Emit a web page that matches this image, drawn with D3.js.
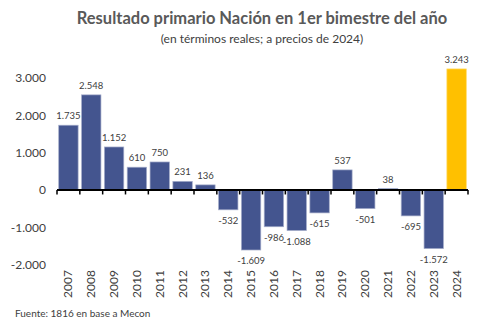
<!DOCTYPE html>
<html>
<head>
<meta charset="utf-8">
<script src="https://cdn.jsdelivr.net/npm/d3@7"></script>
<style>
  body { margin: 0; background: #fff; }
  svg { font-family: Lato, "Open Sans", sans-serif; }
</style>
</head>
<body>
<svg width="477" height="326"></svg>
<script>
// Resultado primario, primer bimestre de cada año (millones, pesos de 2024)
var years = ['2007','2008','2009','2010','2011','2012','2013','2014','2015',
             '2016','2017','2018','2019','2020','2021','2022','2023','2024'];
var values = [1735, 2548, 1152, 610, 750, 231, 136, -532, -1609,
              -986, -1088, -615, 537, -501, 38, -695, -1572, 3243];
var yTicks = [-2000, -1000, 0, 1000, 2000, 3000];

var svg = d3.select('svg');
var locale = d3.formatLocale({ decimal: ',', thousands: '.', grouping: [3], currency: ['$', ''], minus: '-' });
var fmt = locale.format(',d');

var x = d3.scaleBand()
    .domain(years)
    .range([57, 468])
    .paddingInner(0.15)
    .paddingOuter(0.075);

var y = d3.scaleLinear()
    .domain([-2000, 3000])
    .range([264.6, 78]);

// titulos
svg.append('text')
    .attr('x', 262).attr('y', 24)
    .attr('text-anchor', 'middle')
    .attr('font-size', 16.5).attr('font-weight', 'bold')
    .attr('fill', '#595959')
    .text('Resultado primario Nación en 1er bimestre del año');

svg.append('text')
    .attr('x', 262).attr('y', 43)
    .attr('text-anchor', 'middle')
    .attr('font-size', 12)
    .attr('fill', '#404040')
    .text('(en términos reales; a precios de 2024)');

// eje y, solo etiquetas
var yAxis = svg.append('g')
    .attr('transform', 'translate(46,0)')
    .call(d3.axisLeft(y).tickValues(yTicks).tickFormat(fmt).tickSize(0).tickPadding(0));
yAxis.select('.domain').remove();
yAxis.selectAll('text')
    .attr('font-size', 12)
    .attr('font-family', 'Lato, "Open Sans", sans-serif')
    .attr('fill', '#404040');

// barras
svg.selectAll('.bar')
    .data(values)
    .enter()
    .append('rect')
    .attr('class', 'bar')
    .attr('x', function(d, i) { return x(years[i]); })
    .attr('width', x.bandwidth())
    .attr('y', function(d) { return y(Math.max(0, d)); })
    .attr('height', function(d) { return Math.abs(y(d) - y(0)); })
    .attr('fill', function(d, i) { return years[i] === '2024' ? '#FFC000' : '#44558F'; })
    .attr('stroke', function(d, i) { return years[i] === '2024' ? '#FFD966' : '#A6AECB'; })
    .attr('stroke-width', 0.7);

// etiquetas de valor
svg.selectAll('.val')
    .data(values)
    .enter()
    .append('text')
    .attr('class', 'val')
    .attr('x', function(d, i) { return x(years[i]) + x.bandwidth() / 2; })
    .attr('y', function(d) { return d >= 0 ? y(d) - 6 : y(d) + 14; })
    .attr('text-anchor', 'middle')
    .attr('font-size', 9.5)
    .attr('fill', '#404040')
    .text(function(d) { return fmt(d); });

// eje x sobre el cero, con marcas entre categorias
var bounds = d3.range(years.length + 1).map(function(i) { return 57 + i * x.step(); });
svg.append('line')
    .attr('x1', 57).attr('x2', 468)
    .attr('y1', y(0)).attr('y2', y(0))
    .attr('stroke', '#000').attr('stroke-width', 2);
svg.selectAll('.tk')
    .data(bounds)
    .enter()
    .append('line')
    .attr('class', 'tk')
    .attr('x1', function(d) { return d; }).attr('x2', function(d) { return d; })
    .attr('y1', y(0)).attr('y2', y(0) + 4.5)
    .attr('stroke', '#000').attr('stroke-width', 1.5);

// años rotados
svg.selectAll('.yr')
    .data(years)
    .enter()
    .append('text')
    .attr('class', 'yr')
    .attr('transform', function(d) {
        return 'translate(' + (x(d) + x.bandwidth() / 2 + 4) + ',298) rotate(-90)';
    })
    .attr('font-size', 12)
    .attr('fill', '#404040')
    .text(function(d) { return d; });

svg.append('text')
    .attr('x', 15).attr('y', 317)
    .attr('font-size', 10)
    .attr('fill', '#404040')
    .text('Fuente: 1816 en base a Mecon');
</script>
</body>
</html>
